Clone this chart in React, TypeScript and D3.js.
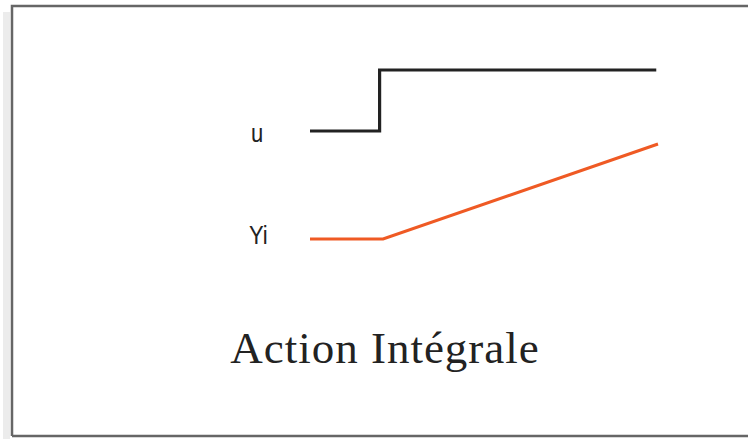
import * as d3 from "d3";
import { useEffect, useRef } from "react";

const width = 748;
const height = 439;

// step input u and integral response Yi, time in arbitrary units
const uTimes = [0, 2, 2, 9.95];
const uValues = [0, 0, 1, 1];
const yiTimes = [0, 2.1, 10];
const yiValues = [0, 0, 1];
const labels = ["u", "Yi"];
const title = "Action Intégrale";

const App = () => {
  const ref = useRef<SVGSVGElement>(null);

  useEffect(() => {
    document.body.style.margin = "0";
    const svg = d3.select(ref.current);
    svg.selectAll("*").remove();

    const x = d3.scaleLinear().domain([0, 10]).range([310, 658]);
    const yU = d3.scaleLinear().domain([0, 1]).range([131, 70]);
    const yYi = d3.scaleLinear().domain([0, 1]).range([239, 144]);

    // frame
    svg.append("rect").attr("x", 3).attr("y", 12).attr("width", 7).attr("height", height - 12).attr("fill", "#ececec");
    const frame = svg.append("g").attr("stroke", "#666").attr("stroke-width", 2.5).attr("fill", "none");
    frame.append("path").attr("d", `M12,${height - 3} L12,6 L${width},6`);
    frame.append("path").attr("d", `M12,436 L${width},436`);

    const uLine = d3
      .line<number>()
      .x((d, i) => x(uTimes[i]))
      .y((d) => yU(d));
    const yiLine = d3
      .line<number>()
      .x((d, i) => x(yiTimes[i]))
      .y((d) => yYi(d));

    svg
      .append("path")
      .attr("d", uLine(uValues))
      .attr("fill", "none")
      .attr("stroke", "#222")
      .attr("stroke-width", 3.2);

    svg
      .append("path")
      .attr("d", yiLine(yiValues))
      .attr("fill", "none")
      .attr("stroke", "#ef5a24")
      .attr("stroke-width", 3);

    svg
      .selectAll("text.label")
      .data(labels)
      .enter()
      .append("text")
      .attr("class", "label")
      .attr("transform", (d, i) => `translate(${i === 0 ? 251 : 249},${i === 0 ? yU(0) + 11 : yYi(0) + 5}) scale(1,1.15)`)
      .attr("font-family", "Liberation Sans, Arial, sans-serif")
      .attr("font-size", 22)
      .attr("fill", "#222")
      .text((d) => d);

    svg
      .append("text")
      .attr("x", 385)
      .attr("y", 363)
      .attr("text-anchor", "middle")
      .attr("font-family", "Liberation Serif, Times New Roman, serif")
      .attr("font-size", 45)
      .attr("letter-spacing", 1)
      .attr("fill", "#222")
      .text(title);
  }, []);

  return (
    <svg
      ref={ref}
      width={width}
      height={height}
      style={{ display: "block", background: "#fff" }}
    />
  );
};

export default App;
